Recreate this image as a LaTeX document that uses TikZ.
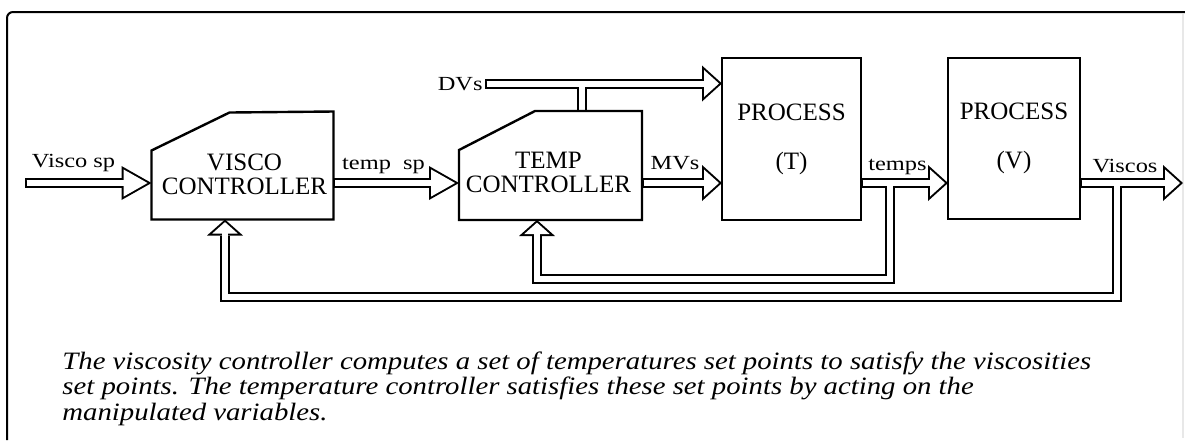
\documentclass[tikz,border=0pt]{standalone}
\usepackage{fontspec}
\setmainfont{Liberation Serif}
\newfontfamily\sigfont[FakeStretch=1.22]{Liberation Serif}
\newfontfamily\notefont[FakeStretch=1.15]{Liberation Serif}
\usetikzlibrary{arrows.meta,calc}

\begin{document}
\begin{tikzpicture}[x=0.5pt, y=-0.5pt, line join=miter,
  framebox/.style={line width=1pt, rounded corners=3pt},
  boxline/.style={line width=1.2pt},
  ctrlbox/.style={minimum width=91pt, minimum height=54pt, inner sep=0pt, outer sep=0pt},
  ctrltext/.style={align=center, font=\fontsize{12.5}{12}\selectfont},
  procbox/.style={draw, line width=1.2pt, align=center, inner sep=0pt, outer sep=0pt,
    font=\fontsize{12.5}{24.5}\selectfont},
  sig/.style={font=\sigfont\fontsize{10}{12}\selectfont, inner sep=0pt, anchor=base},
  note/.style={font=\notefont\itshape\fontsize{12.5}{12.8}\selectfont, align=left,
    inner sep=0pt, anchor=north west},
  pipe outer/.style={line width=5pt, black},
  pipe inner/.style={line width=3pt, white, shorten <=0.8pt, shorten >=0.6pt},
  pipe gap/.style={pipe inner},
  head outer/.style={-{Triangle[length=10pt, width=18pt, line width=0pt]}},
  head inner/.style={-{Triangle[length=7.5pt, width=13.5pt, line width=0pt]}, shorten >=1.5pt},
  head gap/.style={shorten >=8.5pt},
  longhead outer/.style={-{Triangle[length=15pt, width=17pt, line width=0pt]}},
  longhead inner/.style={-{Triangle[length=12pt, width=13.6pt, line width=0pt]}, shorten >=2pt},
  longhead gap/.style={shorten >=13.5pt},
  uphead outer/.style={-{Triangle[length=8pt, width=18pt, line width=0pt]}},
  uphead inner/.style={-{Triangle[length=5.7pt, width=12.7pt, line width=0pt]}, shorten >=1.3pt},
  uphead gap/.style={shorten >=6.5pt}]
  % page and frame
  \useasboundingbox (0,0) rectangle (1185,447);
  \draw[framebox] (7,440) -- (7,12) -- (1185,12);
  \draw[gray!18, line width=0.6pt] (1183,14) -- (1183,438);

  % blocks
  \node[ctrlbox] (visco) at (242.5,165.5) {};
  \node[ctrlbox, minimum width=91.5pt, minimum height=54.5pt] (temp) at (550.5,165.5) {};
  \node[procbox, minimum width=69.5pt, minimum height=81pt] (procT) at (791.5,139) {PROCESS\\(T)};
  \node[procbox, minimum width=66pt, minimum height=80.5pt] (procV) at (1014,138.5) {PROCESS\\(V)};

  % free ends and taps
  \coordinate (vin) at (25,183);
  \coordinate (vout) at (1183,183);
  \coordinate (dvin) at (485,83.5);
  \coordinate (dvtap) at (582,83.5);
  \coordinate (tapT) at (890,183);
  \coordinate (tapV) at (1117,183);
  \coordinate (fbT) at (537,279);
  \coordinate (fbV) at (225,297);

  % double-line pipes: outline, core, then open the heads
  \foreach \layer in {outer,inner,gap} {
    \draw[pipe \layer, longhead \layer] (vin) -- (vin -| visco.west);
    \draw[pipe \layer, longhead \layer] (visco.east |- vin) -- (temp.west |- vin);
    \draw[pipe \layer, head \layer] (temp.east |- vin) -- (procT.west |- vin);
    \draw[pipe \layer, head \layer] (procT.east |- vin) -- (procV.west |- vin);
    \draw[pipe \layer, head \layer] (procV.east |- vin) -- (vout);
    \draw[pipe \layer, head \layer] (dvin) -- (dvin -| procT.west);
    \draw[pipe \layer] (dvtap) -- (dvtap |- temp.north);
    \draw[pipe \layer, uphead \layer] (tapT) |- (fbT) -- (fbT |- temp.south);
    \draw[pipe \layer, uphead \layer] (tapV) |- (fbV) -- (fbV |- visco.south);
  }

  % chamfered controller outlines
  \draw[boxline] (visco.south west) -- ++(0,-69) -- ++(78,-38) -- (visco.north east)
    -- (visco.south east) -- cycle;
  \draw[boxline] (temp.south west) -- ++(0,-70) -- ++(76,-39) -- (temp.north east)
    -- (temp.south east) -- cycle;
  \node[ctrltext] at ($(visco.center)+(2,9)$) {VISCO\\CONTROLLER};
  \node[ctrltext] at ($(temp.center)+(-2,7)$) {TEMP\\CONTROLLER};

  % signal labels
  \node[sig] (lvsp) at (73.5,167) {Visco sp};
  \node[sig] (ltsp) at (383.5,169) {temp\ \ sp};
  \node[sig] (lmv) at (675,169) {MVs};
  \node[sig] (ltemps) at (897.5,170) {temps};
  \node[sig] (lvis) at (1125,172) {Viscos};
  \node[sig, anchor=east] (ldv) at (483,84) {DVs};

  % caption
  \node[note] (cap) at (62,351) {The viscosity controller computes a set of temperatures set points to satisfy the viscosities\\
    set points. The temperature controller satisfies these set points by acting on the\\
    manipulated variables.};
\end{tikzpicture}
\end{document}
